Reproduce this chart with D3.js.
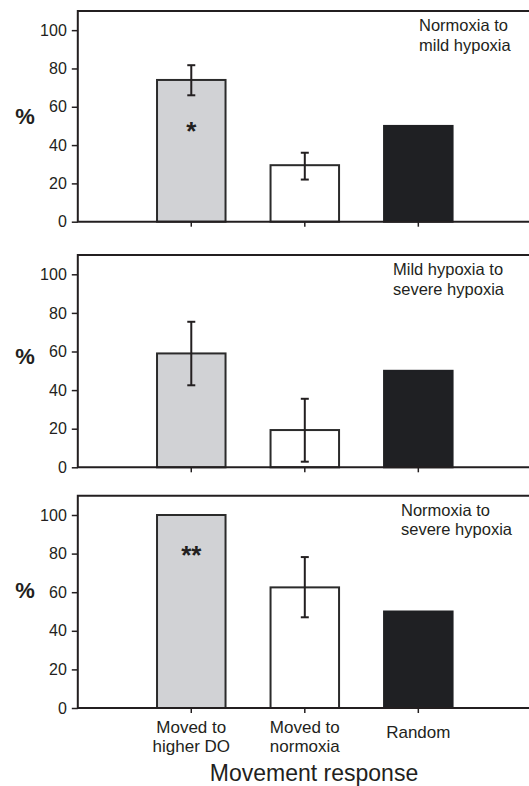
<!DOCTYPE html>
<html>
<head>
<meta charset="utf-8">
<script src="https://cdn.jsdelivr.net/npm/d3@7"></script>
<style>
  body { margin: 0; background: #fff; }
  svg { display: block; font-family: "Liberation Sans", Arial, Helvetica, sans-serif; }
</style>
</head>
<body>
<div id="canvas"></div>
<script>
(function (d3) {
  'use strict';

  // data
  const categories = ['higherDO', 'normoxia', 'random'];
  const categoryLabels = [['Moved to', 'higher DO'], ['Moved to', 'normoxia'], ['Random']];
  const panelTitles = [
    ['Normoxia to', 'mild hypoxia'],
    ['Mild hypoxia to', 'severe hypoxia'],
    ['Normoxia to', 'severe hypoxia']
  ];
  const meanValues = [
    [74, 29.5, 50],
    [59, 19.3, 50],
    [100, 62.5, 50]
  ];
  const errLow = [
    [66, 22, null],
    [42.5, 2.9, null],
    [null, 47, null]
  ];
  const errHigh = [
    [81.7, 36, null],
    [75.4, 35.5, null],
    [null, 78.2, null]
  ];
  const significance = ['*', '', '**'];
  const yTicks = [0, 20, 40, 60, 80, 100];
  const barColors = ['#d1d2d5', '#ffffff', '#1f2023'];

  const width = 529;
  const height = 786;
  const ink = '#231f20';

  // layout of the three stacked panels
  const panels = [
    { bottom: 221.7, top: 11, titleX: 419, pctAt: 51, starAt: 50 },
    { bottom: 467.3, top: 255, titleX: 393, pctAt: 53.5, starAt: null },
    { bottom: 708, top: 495.7, titleX: 401, pctAt: 57, starAt: 82 }
  ];

  const svg = d3.select('#canvas')
    .append('svg')
    .attr('width', width)
    .attr('height', height);

  const step = 113.5;
  const x = d3.scaleBand()
    .domain(categories)
    .range([191.3 - step / 2, 191.3 + step * 2.5])
    .paddingInner(0.3965)
    .paddingOuter(0.198);
  const frameLeft = x.range()[0] - step / 2;
  const frameRight = frameLeft + step * 4;

  panels.forEach((p, i) => {
    const y = d3.scaleLinear().domain([0, 110]).range([p.bottom, p.top]);
    const g = svg.append('g');

    // bars
    g.selectAll('rect.bar')
      .data(meanValues[i])
      .enter()
      .append('rect')
      .attr('class', 'bar')
      .attr('x', (d, j) => x(categories[j]))
      .attr('y', d => y(d))
      .attr('width', x.bandwidth())
      .attr('height', d => y(0) - y(d))
      .attr('fill', (d, j) => barColors[j])
      .attr('stroke', (d, j) => j == 2 ? barColors[j] : '#2b2b2b')
      .attr('stroke-width', 2);

    // error bars
    const errs = meanValues[i].map((d, j) => ({ j: j, lo: errLow[i][j], hi: errHigh[i][j] }))
      .filter(e => e.lo != null);
    const cx = e => x(categories[e.j]) + x.bandwidth() / 2;
    g.selectAll('line.whisker')
      .data(errs)
      .enter()
      .append('line')
      .attr('x1', cx).attr('x2', cx)
      .attr('y1', e => y(e.lo)).attr('y2', e => y(e.hi))
      .attr('stroke', ink).attr('stroke-width', 2);
    ['lo', 'hi'].forEach(k => {
      g.selectAll('line.cap-' + k)
        .data(errs)
        .enter()
        .append('line')
        .attr('x1', e => cx(e) - 4).attr('x2', e => cx(e) + 4)
        .attr('y1', e => y(e[k])).attr('y2', e => y(e[k]))
        .attr('stroke', ink).attr('stroke-width', 2);
    });

    // significance stars
    if (significance[i]) {
      g.append('text')
        .attr('x', x(categories[0]) + x.bandwidth() / 2)
        .attr('y', y(p.starAt) + 14)
        .attr('text-anchor', 'middle')
        .style('font-size', '26px')
        .style('font-weight', 'bold')
        .attr('fill', ink)
        .text(significance[i]);
    }

    // frame (top, left) and baseline
    g.append('path')
      .attr('d', `M${frameRight},${p.top}H${frameLeft}V${p.bottom}H${frameRight}`)
      .attr('fill', 'none')
      .attr('stroke', ink)
      .attr('stroke-width', 2);

    // y axis
    const yAxis = g.append('g')
      .attr('transform', `translate(${frameLeft},0)`)
      .call(d3.axisLeft(y).tickValues(yTicks).tickSize(6).tickPadding(5));
    yAxis.select('.domain').remove();
    yAxis.selectAll('line').attr('stroke', ink).attr('stroke-width', 1.5);
    yAxis.selectAll('text')
      .attr('fill', ink)
      .style('font-size', '16px')
      .style('font-family', '"Liberation Sans", Arial, sans-serif');

    // x ticks
    const xAxis = g.append('g')
      .attr('transform', `translate(0,${p.bottom})`)
      .call(d3.axisBottom(x).tickSize(5).tickFormat(''));
    xAxis.select('.domain').remove();
    xAxis.selectAll('line').attr('stroke', ink).attr('stroke-width', 1.5);

    // % label
    g.append('text')
      .attr('x', 25)
      .attr('y', y(p.pctAt))
      .attr('text-anchor', 'middle')
      .style('font-size', '22px')
      .style('font-weight', 'bold')
      .attr('fill', ink)
      .text('%');

    // panel title
    const title = g.append('text')
      .attr('x', p.titleX)
      .attr('y', p.top + 20)
      .style('font-size', '16.5px')
      .attr('fill', ink);
    title.selectAll('tspan')
      .data(panelTitles[i])
      .enter()
      .append('tspan')
      .attr('x', p.titleX)
      .attr('dy', (d, k) => k == 0 ? 0 : 19.5)
      .text(d => d);
  });

  // category labels under the last panel
  const last = panels[panels.length - 1];
  const catText = svg.selectAll('text.cat')
    .data(categoryLabels)
    .enter()
    .append('text')
    .attr('class', 'cat')
    .attr('text-anchor', 'middle')
    .attr('fill', ink)
    .style('font-size', '17px')
    .attr('y', d => d.length == 1 ? last.bottom + 30 : last.bottom + 25);
  catText.selectAll('tspan')
    .data((d, j) => d.map(t => ({ t: t, j: j })))
    .enter()
    .append('tspan')
    .attr('x', d => x(categories[d.j]) + x.bandwidth() / 2)
    .attr('dy', (d, k) => k == 0 ? 0 : 18.5)
    .text(d => d.t);

  svg.append('text')
    .attr('x', 314)
    .attr('y', 780.5)
    .attr('text-anchor', 'middle')
    .attr('fill', ink)
    .style('font-size', '23px')
    .text('Movement response');

}(d3));
</script>
</body>
</html>
